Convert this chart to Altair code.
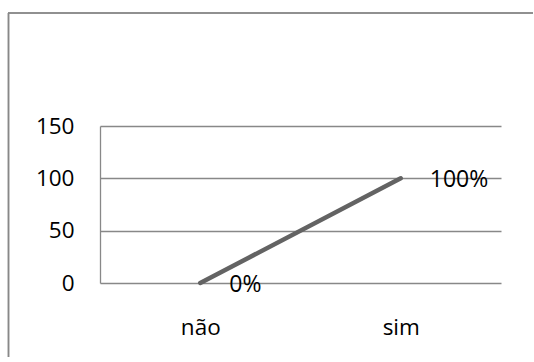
import altair as alt
import pandas as pd

categories = ["não", "sim"]
values = [0, 100]
labels = ["0%", "100%"]

df = pd.DataFrame({"cat": categories, "val": values, "lab": labels})

FONT = "Open Sans"
W, H = 401, 157

x = alt.X("cat:N", sort=categories, title=None,
          scale=alt.Scale(paddingInner=0, paddingOuter=0),
          axis=alt.Axis(labelAngle=0, ticks=False, domain=False, grid=False,
                        labelFont=FONT, labelFontSize=22.5, labelColor="#000",
                        labelPadding=33))
y = alt.Y("val:Q", title=None,
          scale=alt.Scale(domain=[0, 150], nice=False),
          axis=alt.Axis(values=[0, 50, 100, 150], ticks=False, domain=True,
                        domainColor="#888", domainWidth=1.3,
                        grid=True, gridColor="#888", gridWidth=1.3,
                        labelFont=FONT, labelFontSize=22.5, labelColor="#000",
                        labelPadding=26))

base = alt.Chart(df)

line = base.mark_line(color="#636363", strokeWidth=4.5, strokeCap="round").encode(x=x, y=y)
text = base.mark_text(align="left", baseline="middle", dx=29, dy=2,
                      font=FONT, fontSize=23, color="#000").encode(
    x=alt.X("cat:N", sort=categories), y="val:Q", text="lab:N")

frame_top = base.mark_rule(color="#888", strokeWidth=1.5, strokeCap="butt").encode(
    x=alt.value(-92), x2=alt.value(433), y=alt.value(-113), y2=alt.value(-113))
frame_left = base.mark_rule(color="#888", strokeWidth=1.5, strokeCap="butt").encode(
    x=alt.value(-91.5), x2=alt.value(-91.5), y=alt.value(-113), y2=alt.value(240))

chart = alt.layer(frame_top, frame_left, line, text).properties(
    width=W, height=H,
    autosize=alt.AutoSizeParams(type="none"),
    padding={"left": 100, "top": 126, "right": 33, "bottom": 74},
).configure_view(stroke=None, strokeWidth=0)

chart.save("out.html", embed_options={"renderer": "svg", "actions": False})
